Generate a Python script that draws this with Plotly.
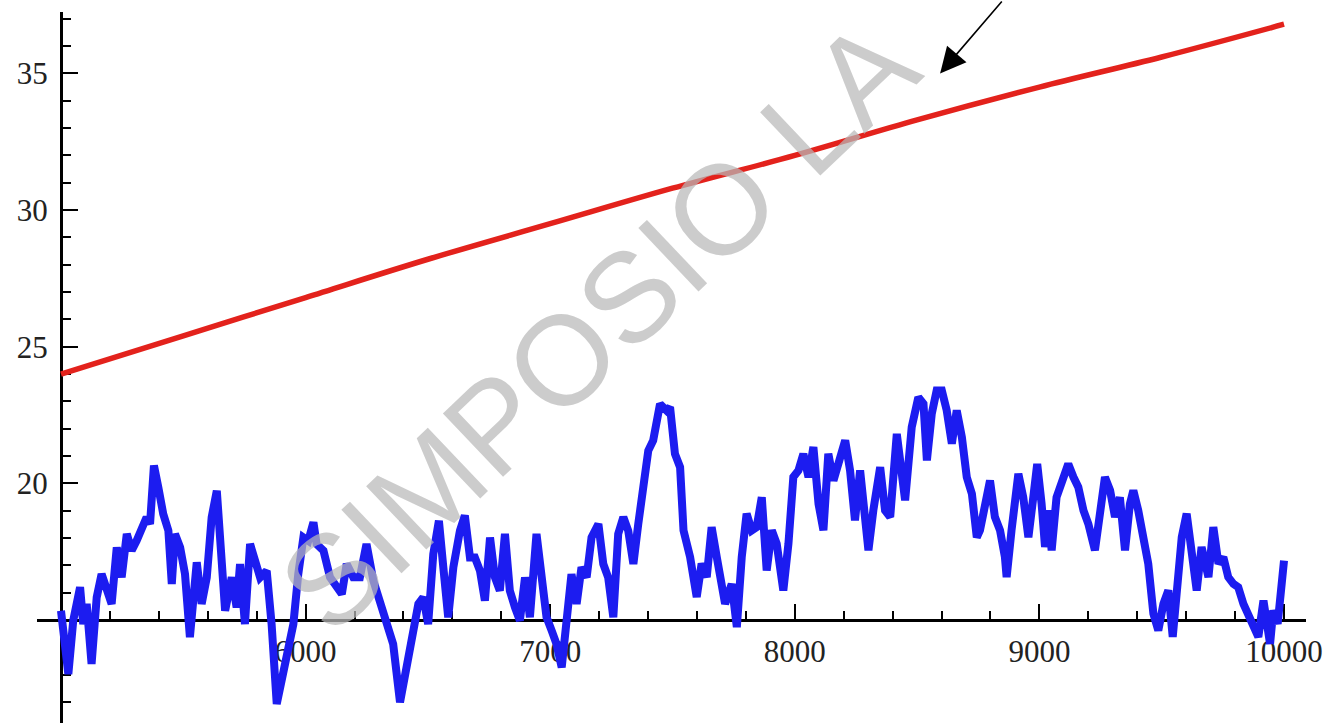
import plotly.graph_objects as go

# ---- data ----
red_x = [5000, 5500, 6000, 6500, 7000, 7500, 8000, 8500, 9000, 9500, 10000]
red_y = [24.0, 25.4, 26.8, 28.2, 29.5, 30.8, 32.0, 33.3, 34.5, 35.6, 36.8]

blue_x = [5000, 5030, 5050, 5078, 5091, 5105, 5125, 5146, 5166, 5187, 5207, 5228, 5248, 5269,
          5289, 5309, 5330, 5350, 5364, 5380, 5398, 5418, 5439, 5453, 5466, 5487, 5507, 5527,
          5555, 5575, 5596, 5616, 5637, 5657, 5671, 5698, 5718, 5732, 5752, 5773, 5793, 5814,
          5841, 5861, 5882, 5909, 5930, 5950, 5970, 5991, 6011, 6032, 6045, 6073, 6100, 6127,
          6148, 6168, 6195,
          6222, 6249, 6277, 6304, 6331, 6358, 6386, 6413, 6440, 6461, 6481, 6501, 6522, 6545,
          6563, 6583, 6604, 6631, 6651, 6672, 6692, 6713, 6733, 6754, 6774, 6794, 6815, 6835,
          6856, 6876, 6897, 6917, 6944, 6965, 6985, 7006, 7026, 7047, 7067, 7087, 7108, 7128,
          7149, 7169, 7197, 7217, 7237, 7258, 7278, 7299, 7319, 7340, 7360, 7381, 7401, 7421,
          7449, 7476,
          7490, 7510, 7531, 7545, 7572, 7599, 7619, 7640, 7660, 7681, 7694, 7715, 7742, 7763,
          7783, 7803, 7824, 7844, 7865, 7885, 7906, 7926, 7953, 7974, 7994, 8015, 8035, 8056,
          8076, 8097, 8117, 8137, 8158, 8178, 8206, 8226, 8246, 8267, 8287, 8301, 8321, 8349,
          8369, 8390, 8417, 8437, 8451, 8478, 8505, 8526, 8540, 8560, 8580, 8601, 8621, 8642,
          8662, 8683, 8703, 8724, 8744,
          8757, 8771, 8798, 8818, 8839, 8859, 8866, 8886, 8914, 8934, 8955, 8975, 8991, 9009,
          9023, 9036, 9050, 9070, 9098, 9118, 9139, 9159, 9180, 9200, 9227, 9248, 9268, 9289,
          9309, 9329, 9350, 9370, 9384, 9404, 9425, 9445, 9466, 9486, 9507, 9527, 9545, 9561,
          9582, 9602, 9622, 9643, 9663, 9691, 9711, 9732, 9752, 9772, 9793, 9813, 9834, 9854,
          9875, 9895, 9916, 9929, 9943, 9956, 9974, 10000]
blue_y = [15.34, 13.02, 14.98, 16.20, 14.85, 15.59, 13.39, 15.83, 16.68, 16.07, 15.59, 17.66, 16.56, 18.15,
          17.54, 17.90, 18.27, 18.76, 18.51, 20.65, 19.85, 18.88, 18.27, 16.32, 18.15, 17.66, 16.68, 14.37,
          17.11, 15.59, 16.56, 18.76, 19.73, 17.29, 15.34, 16.56, 15.46, 17.05, 14.85, 17.78, 17.05, 16.56,
          16.80, 14.85, 11.93, 13.02, 14.12, 14.85, 16.68, 18.02, 17.90, 18.57, 17.78, 17.54, 16.56, 16.20,
          15.95, 17.05, 16.56,
          16.56, 17.78, 16.44, 15.59, 14.85, 14.12, 11.99, 13.39, 14.37, 15.59, 15.83, 14.85, 17.41, 18.63,
          16.93, 15.10, 16.93, 18.27, 18.82, 17.29, 17.29, 16.80, 15.71, 18.02, 16.56, 16.07, 18.15, 16.07,
          15.46, 14.98, 16.56, 15.10, 18.15, 16.32, 15.10, 14.61, 14.12, 13.27, 14.85, 16.68, 15.59, 16.93,
          16.56, 18.02, 18.51, 17.05, 16.56, 15.10, 18.15, 18.76, 18.27, 17.05, 18.51, 19.98, 21.20, 21.57,
          22.90, 22.66,
          22.79, 21.08, 20.59, 18.28, 17.30, 15.84, 17.06, 16.57, 18.40, 17.30, 16.69, 15.59, 16.32, 14.74,
          17.30, 18.89, 18.28, 18.40, 19.49, 16.81, 18.28, 17.79, 16.08, 17.79, 20.23, 20.47, 21.08, 20.23,
          21.33, 19.25, 18.28, 21.08, 20.10, 20.71, 21.57, 20.47, 18.65, 20.47, 18.77, 17.55, 19.01, 20.59,
          19.01, 18.77, 21.81, 20.47, 19.38, 22.06, 23.15, 22.91, 20.84, 22.55, 23.40, 23.40, 22.67, 21.45,
          22.67, 21.69, 20.23, 19.62, 18.03,
          18.28, 19.01, 20.10, 18.77, 18.28, 17.30, 16.57, 18.28, 20.35, 19.49, 18.03, 19.49, 20.71, 19.25,
          17.67, 19.01, 17.55, 19.49, 20.10, 20.71, 20.23, 19.86, 19.01, 18.52, 17.55, 18.77, 20.23, 19.74,
          18.77, 19.49, 17.55, 19.25, 19.74, 19.01, 17.79, 17.06, 15.23, 14.62, 15.59, 16.08, 14.38, 16.20,
          18.03, 18.89, 17.67, 16.08, 17.67, 16.57, 18.40, 17.06, 17.30, 16.57, 16.32, 16.20, 15.59, 15.23,
          14.86, 14.38, 15.71, 14.62, 14.13, 15.35, 14.86, 17.17]

x_tick_vals = [6000, 7000, 8000, 9000, 10000]
x_tick_text = ["6000", "7000", "8000", "9000", "10000"]
y_tick_vals = [20, 25, 30, 35]
y_tick_text = ["20", "25", "30", "35"]

watermark = "SIMPOSIO LA"

W, H = 1331, 723

fig = go.Figure()
fig.add_trace(go.Scatter(x=blue_x, y=blue_y, mode="lines",
                         line=dict(color="#1c1cf0", width=8), hoverinfo="skip"))
fig.add_trace(go.Scatter(x=red_x, y=red_y, mode="lines",
                         line=dict(color="#e3221c", width=5.5, shape="spline"), hoverinfo="skip"))

tickfont = dict(family="Liberation Serif, Times New Roman, serif", size=31, color="#222")

fig.update_layout(
    template="none",
    width=W, height=H, autosize=False,
    margin=dict(l=0, r=0, t=0, b=0, pad=0),
    paper_bgcolor="white", plot_bgcolor="white",
    showlegend=False,
    xaxis=dict(
        domain=[37 / W, 1306 / W],
        range=[4901.9, 10089.9],
        anchor="free", position=(H - 620) / H,
        automargin=False,
        showgrid=False, zeroline=False,
        showline=True, linecolor="black", linewidth=3,
        tickmode="array", tickvals=x_tick_vals, ticktext=x_tick_text,
        ticks="inside", ticklen=15, tickwidth=2, tickcolor="black",
        minor=dict(tickmode="linear", tick0=0, dtick=200, ticks="inside",
                   ticklen=8, tickwidth=2, tickcolor="black", showgrid=False),
        tickfont=tickfont, ticklabelstandoff=3,
        layer="below traces",
    ),
    yaxis=dict(
        domain=[0, 1 - 12 / H],
        range=[11.231, 37.247],
        anchor="free", position=61 / W,
        automargin=False,
        showgrid=False, zeroline=False,
        showline=True, linecolor="black", linewidth=3,
        tickmode="array", tickvals=y_tick_vals, ticktext=y_tick_text,
        ticks="inside", ticklen=15, tickwidth=2, tickcolor="black",
        minor=dict(tickmode="linear", tick0=0, dtick=1, ticks="inside",
                   ticklen=8, tickwidth=2, tickcolor="black", showgrid=False),
        tickfont=tickfont, ticklabelstandoff=6,
        layer="below traces",
    ),
)

# watermark
fig.add_annotation(
    xref="paper", yref="paper", x=598 / W, y=1 - 326 / H,
    text=watermark, showarrow=False, textangle=-43.5,
    font=dict(family="Liberation Sans, Arial, sans-serif", size=127,
              color="rgba(185,185,185,0.72)"),
    xanchor="center", yanchor="middle",
)

# arrow pointing at the red curve
fig.add_annotation(
    x=8594, y=35.0, xref="x", yref="y",
    ax=63, ay=-82, text="", showarrow=True,
    arrowhead=2, arrowsize=3.2, arrowwidth=1.6, arrowcolor="black",
)

fig.write_html("out.html", config={"displayModeBar": False},
               post_script="document.body.style.margin='0';document.body.style.overflow='hidden';")
